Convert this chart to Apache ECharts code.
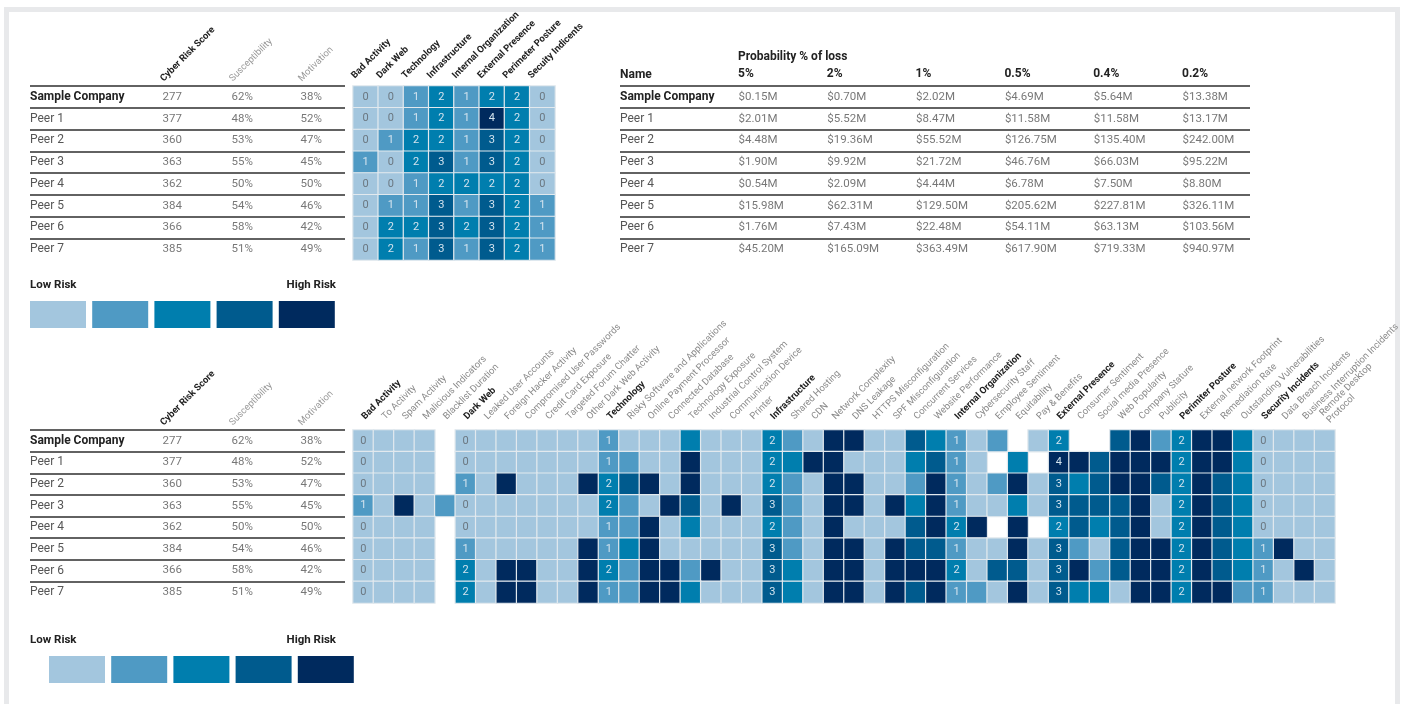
<!DOCTYPE html>
<html>
<head>
<meta charset="utf-8">
<script src="https://cdn.jsdelivr.net/npm/echarts@6/dist/echarts.min.js"></script>
<style>
  html, body { margin: 0; padding: 0; background: #fff; overflow: hidden; }
  #frame { position: absolute; left: 4px; top: 7px; width: 1386px; height: 760px; border: 5px solid #e8e9eb; border-bottom: none; }
  #chart { position: absolute; left: 0; top: 0; width: 1405px; height: 704px; }
</style>
</head>
<body>
<div id="frame"></div>
<div id="chart"></div>
<script>
// risk overview — tables + heatmaps
const FONT = 'Roboto';

const companies = ['Sample Company', 'Peer 1', 'Peer 2', 'Peer 3', 'Peer 4', 'Peer 5', 'Peer 6', 'Peer 7'];
const riskScore = [277, 377, 360, 363, 362, 384, 366, 385];
const susceptibility = [62, 48, 53, 55, 50, 54, 58, 51];
const motivation = [38, 52, 47, 45, 50, 46, 42, 49];
const scoreCols = ['Cyber Risk Score', 'Susceptibility', 'Motivation'];

const summaryCols = ['Bad Activity', 'Dark Web', 'Technology', 'Infrastructure', 'Internal Organization',
  'External Presence', 'Perimeter Posture', 'Secuity Indicents'];
const summaryRisk = [
  [0, 0, 1, 2, 1, 2, 2, 0],
  [0, 0, 1, 2, 1, 4, 2, 0],
  [0, 1, 2, 2, 1, 3, 2, 0],
  [1, 0, 2, 3, 1, 3, 2, 0],
  [0, 0, 1, 2, 2, 2, 2, 0],
  [0, 1, 1, 3, 1, 3, 2, 1],
  [0, 2, 2, 3, 2, 3, 2, 1],
  [0, 2, 1, 3, 1, 3, 2, 1]
];

const lossCols = ['5%', '2%', '1%', '0.5%', '0.4%', '0.2%'];
const lossValues = [
  [0.15, 0.70, 2.02, 4.69, 5.64, 13.38],
  [2.01, 5.52, 8.47, 11.58, 11.58, 13.17],
  [4.48, 19.36, 55.52, 126.75, 135.40, 242.00],
  [1.90, 9.92, 21.72, 46.76, 66.03, 95.22],
  [0.54, 2.09, 4.44, 6.78, 7.50, 8.80],
  [15.98, 62.31, 129.50, 205.62, 227.81, 326.11],
  [1.76, 7.43, 22.48, 54.11, 63.13, 103.56],
  [45.20, 165.09, 363.49, 617.90, 719.33, 940.97]
];

const factorCols = ['Bad Activity', 'To Activity', 'Spam Activity', 'Malicious Indicators', 'Blacklist Duration',
  'Dark Web', 'Leaked User Accounts', 'Foreign Hacker Activity', 'Compromised User Passwords', 'Credit Card Exposure',
  'Targeted Forum Chatter', 'Other Dark Web Activity',
  'Technology', 'Risky Software and Applications', 'Online Payment Processor', 'Connected Database',
  'Technology Exposure', 'Industrial Control System', 'Communication Device', 'Printer',
  'Infrastructure', 'Shared Hosting', 'CDN', 'Network Complexity', 'DNS Leakage', 'HTTPS Misconfiguration',
  'SPF Misconfiguration', 'Concurrent Services', 'Website Performance',
  'Internal Organization', 'Cybersecurity Staff', 'Employee Sentiment', 'Equitability', 'Pay & Benefits',
  'External Presence', 'Consumer Sentiment', 'Social media Presence', 'Web Popularity', 'Company Stature', 'Publicity',
  'Perimiter Posture', 'External network Footprint', 'Remediation Rate', 'Outstanding Vulnerabilities',
  'Security Incidents', 'Data Breach Incidents', 'Business Interruption Incidents', 'Remote Desktop\nProtocol'];
const groupCols = ['Bad Activity', 'Dark Web', 'Technology', 'Infrastructure', 'Internal Organization',
  'External Presence', 'Perimiter Posture', 'Security Incidents'];
const factorRisk = [
  [0,0,0,0,null,0,0,0,0,0,0,0,1,0,0,0,2, 0,0,0,2,1,0,4,4,0,0,3,2,1,0,1,null, 0,2,null,null,3,4,1,2,4,4,2,0,0,0,0],
  [0,0,0,0,null,0,0,0,0,0,0,0,1,1,0,0,4, 0,0,0,2,2,4,4,0,0,0,2,3,1,0,null,2, null,4,4,3,4,4,4,2,4,4,2,0,0,0,0],
  [0,0,0,0,null,1,0,4,0,0,0,4,2,3,4,0,4, 0,0,0,2,1,0,4,4,0,0,1,4,1,0,1,4, 0,3,2,3,4,4,3,2,4,3,2,0,0,0,0],
  [1,0,4,0,1,0,0,0,0,0,0,0,2,1,0,4,3, 0,4,0,3,1,0,4,4,0,4,2,4,1,0,0,2, 0,3,3,3,3,4,0,2,4,3,2,0,0,0,0],
  [0,0,0,0,null,0,0,0,0,0,0,0,1,1,4,0,2, 0,0,0,2,1,0,4,0,0,0,3,4,2,4,null,4, null,2,3,2,3,4,0,2,4,3,2,0,0,0,0],
  [0,0,0,0,null,1,0,0,0,0,0,4,1,2,4,0,0, 0,0,0,3,1,0,4,4,0,4,3,3,1,0,0,4, 0,3,1,0,3,4,4,2,4,3,2,1,4,0,0],
  [0,0,0,0,null,2,0,4,4,0,0,4,2,1,4,4,1, 4,0,0,3,2,0,4,4,0,4,4,4,2,0,3,3, 0,3,4,1,3,4,4,2,4,3,2,1,0,4,0],
  [0,0,0,0,null,2,0,4,4,0,0,4,1,1,4,4,2, 0,0,0,3,2,0,4,4,0,4,3,4,1,1,0,4, 0,3,2,2,0,4,4,2,4,4,1,1,0,0,0]
];

const riskColors = ['#a3c6de', '#4f9ac4', '#007eae', '#005b8e', '#002a5e'];

const chart = echarts.init(document.getElementById('chart'), null, { renderer: 'canvas' });

const rowAxis = (gridIndex, showNames) => ({
  type: 'category', gridIndex, data: companies, inverse: true, boundaryGap: true,
  show: true,
  axisLine: { show: false }, axisTick: { show: false },
  splitLine: showNames
    ? { show: true, showMaxLine: false, lineStyle: { color: '#2e2e2e', width: 1.6 } }
    : { show: false },
  axisLabel: showNames
    ? {
        show: true, align: 'left', margin: 0,
        formatter: v => v === companies[0] ? '{b|' + v + '}' : '{n|' + v + '}',
        rich: {
          b: { fontFamily: FONT, fontSize: 12, fontWeight: 'bold', color: '#222' },
          n: { fontFamily: FONT, fontSize: 12, color: '#555' }
        }
      }
    : { show: false }
});

const hiddenX = gridIndex => ({ type: 'value', gridIndex, show: false });

// rich label: bold group names, light sub-factor names; multi-line names keep their style
const styled = (v, bold) => v.split('\n').map(s => (bold ? '{g|' : '{f|') + s + '}').join('\n');

const headerAxis = (gridIndex, data, margin, bold, size, light) => ({
  type: 'category', gridIndex, data, position: 'top', boundaryGap: false,
  axisLine: { show: false }, axisTick: { show: false }, splitLine: { show: false },
  axisLabel: {
    interval: 0, rotate: -45, margin,
    formatter: v => styled(v, bold(v)),
    rich: {
      g: { fontFamily: FONT, fontSize: size, fontWeight: 'bold', color: '#222' },
      f: { fontFamily: FONT, fontSize: size, color: light }
    }
  }
});

const textCells = (cols, rowsOf) => {
  const out = [];
  companies.forEach((_, r) => cols.forEach((_, c) => out.push({ value: [c, r], name: rowsOf(r, c) })));
  return out;
};

const scoreText = (r, c) => [String(riskScore[r]), susceptibility[r] + '%', motivation[r] + '%'][c];
const lossText = (r, c) => '$' + lossValues[r][c].toFixed(2) + 'M';

const textSeries = (xAxisIndex, yAxisIndex, data) => ({
  type: 'scatter', xAxisIndex, yAxisIndex, data, silent: true,
  symbolSize: 1, itemStyle: { color: 'rgba(0,0,0,0)' },
  label: { show: true, position: 'right', distance: 0, formatter: '{b}',
    fontFamily: FONT, fontSize: 11.5, color: '#555' }
});

const heatData = rows => {
  const out = [];
  rows.forEach((row, r) => row.forEach((v, c) => { if (v !== null) out.push([c, r, v]); }));
  return out;
};

const cellLabel = showCol => ({
  show: true,
  formatter: p => showCol(p.value[0]) ? (p.value[2] === 0 ? '{d|0}' : '{l|' + p.value[2] + '}') : '',
  rich: {
    d: { fontFamily: FONT, fontSize: 11, color: '#6b7780' },
    l: { fontFamily: FONT, fontSize: 11, color: '#d3e3ee' }
  }
});

const cellStyle = { borderColor: '#e2e9ee', borderWidth: 1.2 };

const legendMap = (seriesIndex, left, top) => ({
  type: 'piecewise', seriesIndex, dimension: 2, orient: 'horizontal',
  left, top, padding: 0, itemWidth: 56, itemHeight: 27, itemGap: 6.2,
  itemSymbol: 'rect', showLabel: false, selectedMode: false, hoverLink: false,
  pieces: riskColors.map((color, i) => ({ value: i, color }))
});

const T1 = 86, H1 = 174, T2 = 430, H2 = 173;

const gridBase = { outerBoundsMode: 'none', containLabel: false };
const option = {
  animation: false,
  backgroundColor: 'transparent',
  grid: [
    { ...gridBase, left: 30, top: T1, width: 315, height: H1 },   // 0 top-left rows
    { ...gridBase, left: 162, top: T1, width: 138, height: H1 },  // 1 top-left values
    { ...gridBase, left: 353, top: T1, width: 202, height: H1 },  // 2 summary heatmap
    { ...gridBase, left: 620, top: T1, width: 630, height: H1 },  // 3 loss rows
    { ...gridBase, left: 738, top: T1, width: 444, height: H1 },  // 4 loss values
    { ...gridBase, left: 30, top: T2, width: 315, height: H2 },   // 5 bottom-left rows
    { ...gridBase, left: 162, top: T2, width: 138, height: H2 },  // 6 bottom-left values
    { ...gridBase, left: 353, top: T2, width: 982, height: H2 }   // 7 factor heatmap
  ],
  xAxis: [
    hiddenX(0),
    headerAxis(1, scoreCols, 6, v => v === 'Cyber Risk Score', 9.5, '#9a9a9a'),
    { type: 'category', gridIndex: 2, data: summaryCols, position: 'bottom', show: false },
    headerAxis(2, summaryCols.concat(['']), 9, () => true, 9.5, '#222'),
    hiddenX(3),
    {
      type: 'category', gridIndex: 4, data: lossCols, position: 'top', boundaryGap: false,
      axisLine: { show: false }, axisTick: { show: false },
      axisLabel: { interval: 0, align: 'left', margin: 6, fontFamily: FONT, fontSize: 12, fontWeight: 'bold', color: '#222' }
    },
    hiddenX(5),
    headerAxis(6, scoreCols, 6, v => v === 'Cyber Risk Score', 9.5, '#9a9a9a'),
    {
      type: 'category', gridIndex: 7, data: factorCols, position: 'top', boundaryGap: true,
      axisLine: { show: false }, axisTick: { show: false },
      axisLabel: {
        interval: 0, rotate: -45, margin: 12,
        formatter: v => styled(v, groupCols.includes(v)),
        rich: {
          g: { fontFamily: FONT, fontSize: 9.5, fontWeight: 'bold', color: '#222' },
          f: { fontFamily: FONT, fontSize: 9.5, color: '#8a8a8a' }
        }
      }
    }
  ],
  yAxis: [
    rowAxis(0, true), rowAxis(1, false), rowAxis(2, false), rowAxis(3, true),
    rowAxis(4, false), rowAxis(5, true), rowAxis(6, false), rowAxis(7, false)
  ],
  visualMap: [legendMap(1, 30, 301), legendMap(4, 49, 656)],
  graphic: [
    { type: 'text', left: 738, top: 51, style: { text: 'Probability % of loss', font: 'bold 12px Roboto', fill: '#222' } },
    { type: 'text', left: 620, top: 69, style: { text: 'Name', font: 'bold 12px Roboto', fill: '#222' } },
    { type: 'text', left: 30, top: 279, style: { text: 'Low Risk', font: 'bold 11.5px Roboto', fill: '#222' } },
    { type: 'text', right: 1069, top: 279, style: { text: 'High Risk', font: 'bold 11.5px Roboto', fill: '#222' } },
    { type: 'text', left: 30, top: 634, style: { text: 'Low Risk', font: 'bold 11.5px Roboto', fill: '#222' } },
    { type: 'text', right: 1069, top: 634, style: { text: 'High Risk', font: 'bold 11.5px Roboto', fill: '#222' } }
  ],
  series: [
    textSeries(1, 1, textCells(scoreCols, scoreText)),
    {
      type: 'heatmap', xAxisIndex: 2, yAxisIndex: 2, data: heatData(summaryRisk),
      itemStyle: cellStyle, label: cellLabel(() => true), emphasis: { disabled: true }
    },
    textSeries(5, 4, textCells(lossCols, lossText)),
    textSeries(7, 6, textCells(scoreCols, scoreText)),
    {
      type: 'heatmap', xAxisIndex: 8, yAxisIndex: 7, data: heatData(factorRisk),
      itemStyle: cellStyle, label: cellLabel(c => groupCols.includes(factorCols[c])), emphasis: { disabled: true }
    }
  ]
};

chart.setOption(option);
</script>
</body>
</html>
